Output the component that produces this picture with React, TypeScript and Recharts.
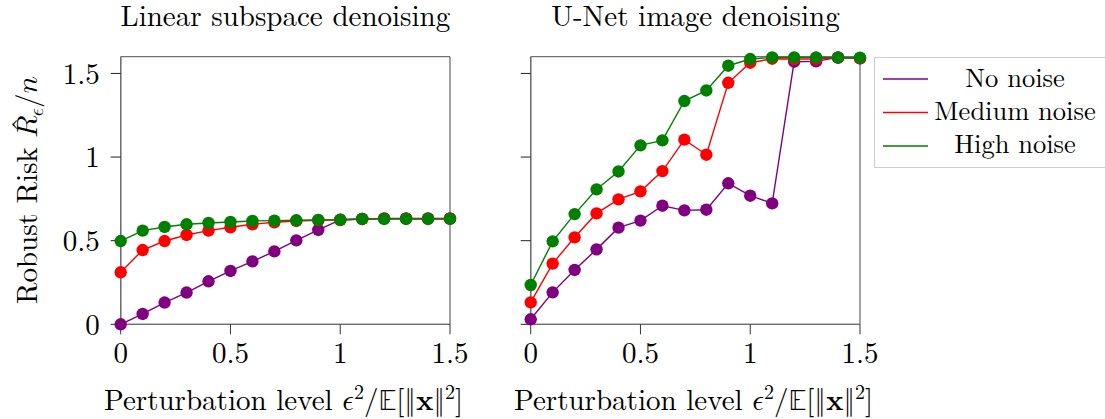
import React from 'react';
import { LineChart, Line, XAxis, YAxis, CartesianGrid } from 'recharts';

// perturbation levels eps^2 / E||x||^2
const xLevels = [0, 0.1, 0.2, 0.3, 0.4, 0.5, 0.6, 0.7, 0.8, 0.9, 1.0, 1.1, 1.2, 1.3, 1.4, 1.5];

// linear subspace denoising
const linearNoNoise = [0, 0.062, 0.13, 0.19, 0.257, 0.319, 0.376, 0.436, 0.502, 0.564, 0.624, 0.63, 0.633, 0.633, 0.633, 0.633];
const linearMedium = [0.311, 0.444, 0.498, 0.534, 0.56, 0.58, 0.598, 0.61, 0.618, 0.622, 0.625, 0.63, 0.632, 0.632, 0.632, 0.632];
const linearHigh = [0.498, 0.56, 0.582, 0.598, 0.606, 0.612, 0.618, 0.62, 0.622, 0.624, 0.625, 0.63, 0.63, 0.63, 0.63, 0.63];

// U-Net image denoising
const unetNoNoise = [0.03, 0.191, 0.325, 0.448, 0.578, 0.62, 0.709, 0.681, 0.685, 0.843, 0.769, 0.723, 1.57, 1.572, 1.596, 1.59];
const unetMedium = [0.131, 0.363, 0.52, 0.663, 0.747, 0.795, 0.916, 1.104, 1.014, 1.444, 1.564, 1.588, 1.586, 1.586, 1.594, 1.59];
const unetHigh = [0.235, 0.496, 0.659, 0.807, 0.914, 1.07, 1.1, 1.335, 1.398, 1.546, 1.586, 1.596, 1.596, 1.596, 1.594, 1.594];

const xTicks = [0, 0.5, 1, 1.5];
const yTicks = [0, 0.5, 1, 1.5];

const titles = ['Linear subspace denoising', 'U-Net image denoising'];
const seriesNames = ['No noise', 'Medium noise', 'High noise'];
const colors = ['#800080', '#ff0000', '#008000'];

const FONT = '"Latin Modern Roman", "Liberation Serif", serif';
const MATH = '"Latin Modern Math", "Latin Modern Roman", "DejaVu Serif", serif';
const FRAME = '#707070';
const FS = 29;
const SUP = 20;

const buildRows = (a: number[], b: number[], c: number[]) =>
  xLevels.map((x, i) => ({ x, none: a[i], medium: b[i], high: c[i] }));

const linearData = buildRows(linearNoNoise, linearMedium, linearHigh);
const unetData = buildRows(unetNoNoise, unetMedium, unetHigh);

const keys = ['none', 'medium', 'high'];

const Panel = ({ data, yLabels }: { data: any[]; yLabels: boolean }) => (
  <LineChart width={470} height={419} data={data} margin={{ top: 56.7, right: 20, bottom: 0, left: 0 }}>
    <CartesianGrid horizontalValues={[0, 1.6]} verticalValues={[0, 1.5]} stroke={FRAME} strokeWidth={1.3} />
    <XAxis
      type="number"
      dataKey="x"
      domain={[0, 1.5]}
      ticks={xTicks}
      height={94.7}
      tickSize={10}
      tickMargin={8}
      axisLine={{ stroke: FRAME, strokeWidth: 1.3 }}
      tickLine={{ stroke: '#333' }}
      tick={{ fontSize: FS, fill: '#000', fontFamily: FONT }}
    />
    <YAxis
      type="number"
      domain={[0, 1.6]}
      ticks={yTicks}
      width={120.7}
      tickSize={10}
      tickMargin={11}
      axisLine={{ stroke: FRAME, strokeWidth: 1.3 }}
      tickLine={{ stroke: '#222' }}
      tickFormatter={(v: number) => (yLabels ? String(v) : '')}
      tick={{ fontSize: FS, fill: '#000', fontFamily: FONT }}
    />
    {keys.map((k, i) => (
      <Line
        key={k}
        dataKey={k}
        name={seriesNames[i]}
        stroke={colors[i]}
        strokeWidth={1.4}
        dot={{ r: 6.2, fill: colors[i], stroke: 'none' }}
        isAnimationActive={false}
      />
    ))}
  </LineChart>
);

const XLabel = ({ cx }: { cx: number }) => (
  <text x={cx} y={410} textAnchor="middle" fontSize={FS} fontFamily={FONT}>
    Perturbation level <tspan fontFamily={MATH}>𝜖</tspan>
    <tspan dy={-11} fontSize={SUP}>2</tspan>
    <tspan dy={11}>/</tspan>
    <tspan fontFamily={MATH}>𝔼</tspan>
    <tspan>[‖</tspan>
    <tspan fontWeight="bold">x</tspan>
    <tspan>‖</tspan>
    <tspan dy={-11} fontSize={SUP}>2</tspan>
    <tspan dy={11}>]</tspan>
  </text>
);

export default function App() {
  return (
    <div style={{ position: 'absolute', left: 0, top: 0, width: 1105, height: 419, fontFamily: FONT, color: '#000', background: '#fff', overflow: 'hidden' }}>
      <div style={{ position: 'absolute', left: 0, top: 0 }}>
        <Panel data={linearData} yLabels={true} />
      </div>
      <div style={{ position: 'absolute', left: 410, top: 0 }}>
        <Panel data={unetData} yLabels={false} />
      </div>

      <svg width={1105} height={419} style={{ position: 'absolute', left: 0, top: 0, pointerEvents: 'none' }}>
        <text x={285.4} y={25.7} textAnchor="middle" fontSize={FS} fontFamily={FONT}>
          {titles[0]}
        </text>
        <text x={695.4} y={25.7} textAnchor="middle" fontSize={FS} fontFamily={FONT}>
          {titles[1]}
        </text>

        <XLabel cx={283.6} />
        <XLabel cx={693.6} />

        <text x={0} y={0} transform="translate(37 190) rotate(-90)" textAnchor="middle" fontSize={FS} fontFamily={FONT}>
          Robust Risk <tspan fontFamily={MATH}>𝑅</tspan>
          <tspan dx={-16} dy={-5} fontFamily={FONT}>ˆ</tspan>
          <tspan dx={1} dy={11} fontFamily={MATH} fontSize={SUP}>
            𝜖
          </tspan>
          <tspan dy={-6} fontFamily={MATH}>/𝑛</tspan>
        </text>

        <rect x={874.5} y={57.5} width={240} height={110} fill="#fff" stroke="#cccccc" strokeWidth={1} />
        {seriesNames.map((n, i) => (
          <g key={n}>
            <line x1={883} x2={928} y1={79 + i * 33.5} y2={79 + i * 33.5} stroke={colors[i]} strokeWidth={1.5} />
            <text x={1015} y={86.5 + i * 33} textAnchor="middle" fontSize={26.5} fontFamily={FONT}>
              {n}
            </text>
          </g>
        ))}
      </svg>
    </div>
  );
}
